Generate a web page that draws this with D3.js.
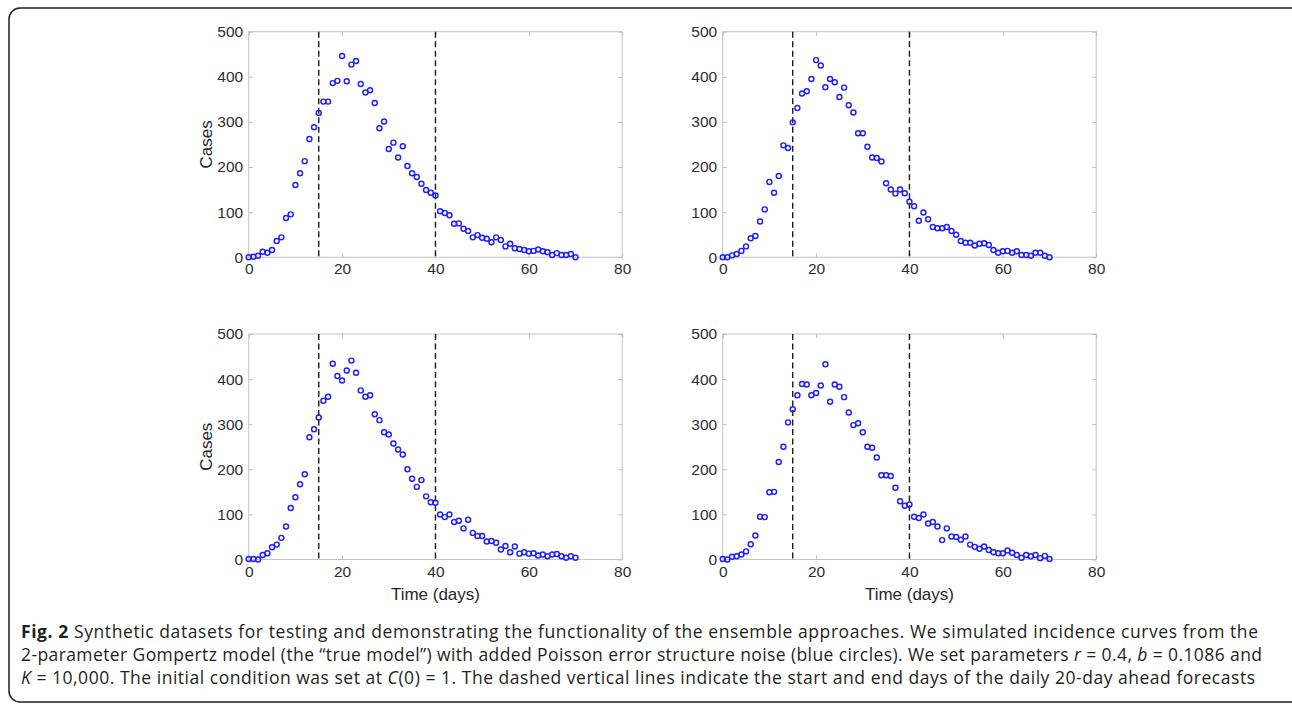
<!DOCTYPE html>
<html>
<head>
<meta charset="utf-8">
<script src="https://cdn.jsdelivr.net/npm/d3@7"></script>
<style>
    body { margin: 0; background: #fff; }
    svg { display: block; }
</style>
</head>
<body>
<div id="content"></div>
<script>
(() => {
    // day index 0..70 and the four synthetic incidence curves
    var days = d3.range(0, 71);

    var casesA = [0, 1, 3, 12, 10, 16, 36, 44, 87, 95,
        160, 186, 213, 262, 288, 320, 345, 345, 386, 391,
        446, 390, 427, 435, 384, 365, 370, 342, 286, 301,
        240, 254, 221, 246, 202, 186, 178, 163, 149, 143,
        137, 102, 98, 93, 74, 75, 63, 58, 44, 49,
        43, 41, 33, 44, 38, 24, 30, 20, 18, 16,
        13, 14, 17, 13, 11, 5, 9, 5, 5, 7, 0];

    var casesB = [0, 0, 4, 7, 14, 24, 42, 47, 79, 106,
        167, 143, 180, 248, 242, 299, 331, 363, 368, 395,
        437, 425, 377, 395, 388, 355, 376, 337, 321, 275,
        275, 245, 221, 220, 212, 164, 150, 141, 150, 142,
        123, 113, 81, 99, 84, 67, 64, 64, 67, 58,
        50, 36, 32, 32, 26, 30, 31, 27, 16, 10,
        13, 14, 10, 13, 5, 5, 3, 10, 10, 3, 0];

    var casesC = [1, 1, 0, 10, 14, 27, 33, 48, 73, 114,
        138, 167, 189, 271, 289, 315, 352, 361, 434, 407,
        397, 419, 441, 414, 375, 361, 364, 322, 309, 282,
        277, 257, 244, 233, 200, 179, 161, 176, 140, 127,
        126, 100, 94, 100, 83, 86, 69, 88, 59, 52,
        52, 40, 41, 37, 22, 30, 16, 29, 13, 16,
        13, 14, 9, 11, 7, 11, 12, 7, 4, 7, 4];

    var casesD = [1, 0, 6, 7, 11, 18, 34, 53, 95, 94,
        149, 150, 216, 250, 304, 333, 364, 389, 388, 364,
        369, 386, 433, 350, 388, 383, 360, 326, 298, 302,
        282, 250, 248, 226, 187, 187, 185, 159, 129, 119,
        122, 95, 92, 100, 80, 83, 73, 43, 69, 51,
        50, 44, 51, 33, 28, 24, 29, 21, 16, 14,
        14, 20, 15, 10, 4, 10, 7, 10, 3, 8, 1];

    var xTicks = [0, 20, 40, 60, 80];
    var yTicks = [0, 100, 200, 300, 400, 500];
    var forecastDays = [15, 40];

    var panels = [
        { cases: casesA, left: 248.7, top: 31.7, yLabel: true, xLabel: false },
        { cases: casesB, left: 722.7, top: 31.7, yLabel: false, xLabel: false },
        { cases: casesC, left: 248.7, top: 334, yLabel: true, xLabel: true },
        { cases: casesD, left: 722.7, top: 334, yLabel: false, xLabel: true }
    ];

    var width = 373.5;
    var height = 225.5;
    var axisFont = "'Liberation Sans', Arial, sans-serif";

    var svg = d3.select("#content").append("svg")
        .attr("width", 1292)
        .attr("height", 704);

    // rounded frame around the whole figure
    svg.append("rect")
        .attr("x", 9)
        .attr("y", 8)
        .attr("width", 1300)
        .attr("height", 694)
        .attr("rx", 11)
        .attr("fill", "none")
        .attr("stroke", "#222")
        .attr("stroke-width", 1.5);

    panels.forEach(function (p) {
        var x = d3.scaleLinear().domain([0, 80]).range([0, width]);
        var y = d3.scaleLinear().domain([0, 500]).range([height, 0]);

        var g = svg.append("g")
            .attr("transform", "translate(" + p.left + "," + p.top + ")");

        g.append("rect")
            .attr("width", width)
            .attr("height", height)
            .attr("fill", "#fff")
            .attr("stroke", "#c4c4c4")
            .attr("stroke-width", 1);

        g.append("g")
            .attr("class", "x axis")
            .attr("transform", "translate(0," + height + ")")
            .call(d3.axisBottom(x).tickValues(xTicks).tickSizeInner(-4).tickSizeOuter(0).tickPadding(6))
            .call(function (a) { a.select(".domain").remove(); });

        g.append("g")
            .attr("class", "y axis")
            .call(d3.axisLeft(y).tickValues(yTicks).tickSizeInner(-4).tickSizeOuter(0).tickPadding(5.5))
            .call(function (a) { a.select(".domain").remove(); });

        g.append("g")
            .call(d3.axisTop(x).tickValues(xTicks).tickSizeInner(-4).tickSizeOuter(0).tickFormat(""))
            .call(function (a) { a.select(".domain").remove(); });

        g.append("g")
            .attr("transform", "translate(" + width + ",0)")
            .call(d3.axisRight(y).tickValues(yTicks).tickSizeInner(-4).tickSizeOuter(0).tickFormat(""))
            .call(function (a) { a.select(".domain").remove(); });

        g.selectAll(".tick text")
            .attr("fill", "#2e2e2e")
            .style("font-family", axisFont)
            .style("font-size", "15.5px");
        g.selectAll(".tick line").attr("stroke", "#bdbdbd");

        g.selectAll(".fc")
            .data(forecastDays)
            .enter().append("line")
            .attr("class", "fc")
            .attr("x1", function (d) { return x(d); })
            .attr("x2", function (d) { return x(d); })
            .attr("y1", 0)
            .attr("y2", height)
            .attr("stroke", "#1a1a1a")
            .attr("stroke-width", 1.4)
            .attr("stroke-dasharray", "6,3.5");

        g.selectAll(".pt")
            .data(p.cases)
            .enter().append("circle")
            .attr("class", "pt")
            .attr("cx", function (d, i) { return x(days[i]); })
            .attr("cy", function (d) { return y(d); })
            .attr("r", 2.5)
            .attr("fill", "none")
            .attr("stroke", "#1f1fff")
            .attr("stroke-width", 1.45);

        if (p.yLabel) {
            g.append("text")
                .attr("transform", "rotate(-90)")
                .attr("x", -height / 2)
                .attr("y", -37)
                .style("font-family", axisFont)
                .style("font-size", "17px")
                .attr("fill", "#262626")
                .style("text-anchor", "middle")
                .text("Cases");
        }
        if (p.xLabel) {
            g.append("text")
                .attr("x", width / 2)
                .attr("y", height + 40)
                .style("font-family", axisFont)
                .style("font-size", "17px")
                .attr("fill", "#262626")
                .style("text-anchor", "middle")
                .text("Time (days)");
        }
    });

    // caption
    var cap = svg.append("g")
        .style("font-family", "'Open Sans', sans-serif")
        .style("font-size", "17.5px")
        .attr("fill", "#231f20");

    var l1 = cap.append("text").attr("x", 21).attr("y", 638)
        .attr("textLength", 1237).attr("lengthAdjust", "spacing");
    l1.append("tspan").style("font-weight", "bold").text("Fig. 2");
    l1.append("tspan").text(" Synthetic datasets for testing and demonstrating the functionality of the ensemble approaches. We simulated incidence curves from the");

    var l2 = cap.append("text").attr("x", 21).attr("y", 661)
        .attr("textLength", 1241).attr("lengthAdjust", "spacing");
    l2.append("tspan").text("2-parameter Gompertz model (the \u201ctrue model\u201d) with added Poisson error structure noise (blue circles). We set parameters ");
    l2.append("tspan").style("font-style", "italic").text("r");
    l2.append("tspan").text(" = 0.4, ");
    l2.append("tspan").style("font-style", "italic").text("b");
    l2.append("tspan").text(" = 0.1086 and");

    var l3 = cap.append("text").attr("x", 21).attr("y", 684)
        .attr("textLength", 1234).attr("lengthAdjust", "spacing");
    l3.append("tspan").style("font-style", "italic").text("K");
    l3.append("tspan").text(" = 10,000. The initial condition was set at ");
    l3.append("tspan").style("font-style", "italic").text("C");
    l3.append("tspan").text("(0) = 1. The dashed vertical lines indicate the start and end days of the daily 20-day ahead forecasts");

})();
</script>
</body>
</html>
